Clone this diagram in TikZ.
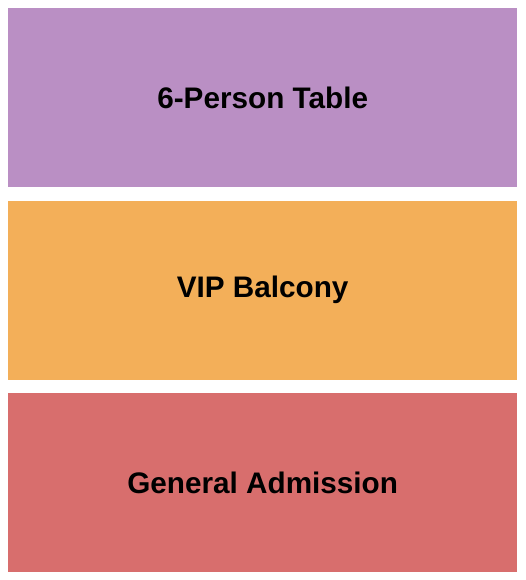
\documentclass[tikz,border=0pt]{standalone}
\usepackage{fontspec}
\setmainfont{Liberation Sans}
\usepackage{tikz}
\usetikzlibrary{positioning}

\definecolor{tablecol}{RGB}{186,143,196}
\definecolor{vipcol}{RGB}{243,175,89}
\definecolor{gacol}{RGB}{216,110,109}

\begin{document}
\begin{tikzpicture}[x=1pt,y=-1pt,node distance=13.2pt,
  section/.style={rectangle, inner sep=0pt, minimum width=509pt, minimum height=179pt,
    font=\fontsize{29.7}{34}\selectfont\bfseries, text=black}]
  \useasboundingbox (0,0) rectangle (525,580);
  \node (table) [section, fill=tablecol, anchor=north west] at (8,8) {6-Person Table};
  \node (vip) [section, fill=vipcol, below=of table] {VIP Balcony};
  \node (ga) [section, fill=gacol, below=of vip] {General Admission};
\end{tikzpicture}
\end{document}
